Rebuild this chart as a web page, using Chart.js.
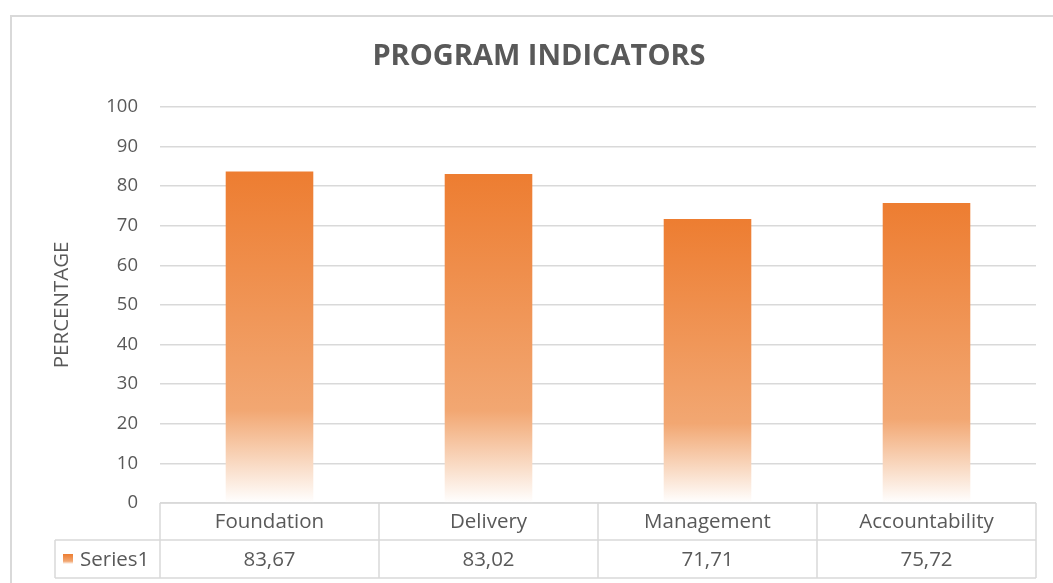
<!DOCTYPE html>
<html>
<head>
<meta charset="utf-8">
<script src="https://cdn.jsdelivr.net/npm/chart.js@4.4.1/dist/chart.umd.min.js"></script>
<style>
  html, body { margin: 0; padding: 0; background: #ffffff; }
  #wrap { width: 1053px; height: 583px; }
</style>
</head>
<body>
<div id="wrap"><canvas id="programChart" width="1053" height="583"></canvas></div>
<script>
// data
const categories = ['Foundation', 'Delivery', 'Management', 'Accountability'];
const series1 = [83.67, 83.02, 71.71, 75.72];
const seriesName = 'Series1';
const yTicks = [0, 10, 20, 30, 40, 50, 60, 70, 80, 90, 100];

const FONT = '"Open Sans", Lato, sans-serif';
const TEXT = '#595959';
const LINE = '#D9D9D9';

function barGradient(c, top, bottom) {
    const g = c.createLinearGradient(0, top, 0, bottom);
    g.addColorStop(0, '#ED7D31');
    g.addColorStop(0.72, '#F2A772');
    g.addColorStop(0.86, '#F8D3B8');
    g.addColorStop(1, '#FFFFFF');
    return g;
}

// outer frame of the chart
const framePlugin = {
    id: 'frame',
    beforeDraw(chart) {
        const c = chart.ctx;
        c.save();
        c.strokeStyle = LINE;
        c.lineWidth = 2;
        c.strokeRect(11, 16, 1200, 700);
        c.restore();
    }
};

// excel style data table under the plot
const tablePlugin = {
    id: 'dataTable',
    afterDraw(chart) {
        const c = chart.ctx;
        const x = chart.scales.x;
        const area = chart.chartArea;
        const top = area.bottom;
        const mid = top + 37;
        const bot = top + 75;
        const legendLeft = 55;
        const n = categories.length;
        const step = (area.right - area.left) / n;

        c.save();
        c.strokeStyle = LINE;
        c.lineWidth = 1.5;
        c.beginPath();
        c.moveTo(area.left, top); c.lineTo(area.right, top);
        c.moveTo(legendLeft, mid); c.lineTo(area.right, mid);
        c.moveTo(legendLeft, bot); c.lineTo(area.right, bot);
        c.moveTo(legendLeft, mid); c.lineTo(legendLeft, bot);
        for (let i = 0; i <= n; i++) {
            const px = area.left + i * step;
            c.moveTo(px, top); c.lineTo(px, bot);
        }
        c.stroke();

        c.fillStyle = TEXT;
        c.font = '20.5px ' + FONT;
        c.textAlign = 'center';
        c.textBaseline = 'middle';
        categories.forEach((name, i) => {
            const cx = x.getPixelForValue(i);
            c.fillText(name, cx, (top + mid) / 2 + 1);
            c.fillText(series1[i].toFixed(2).replace('.', ','), cx, (mid + bot) / 2 + 1);
        });

        // legend key
        const ky = (mid + bot) / 2 - 5;
        c.fillStyle = barGradient(c, ky, ky + 10);
        c.fillRect(63, ky, 10, 10);
        c.fillStyle = TEXT;
        c.textAlign = 'left';
        c.fillText(seriesName, 80, (mid + bot) / 2 + 1);
        c.restore();
    }
};

new Chart(document.getElementById('programChart').getContext('2d'), {
    type: 'bar',
    data: {
        labels: categories,
        datasets: [{
            label: seriesName,
            data: series1,
            backgroundColor: function(ctx) {
                const chart = ctx.chart;
                if (!chart.chartArea) return '#ED7D31';
                const y = chart.scales.y;
                const v = ctx.raw === undefined ? 0 : ctx.raw;
                return barGradient(chart.ctx, y.getPixelForValue(v), y.getPixelForValue(0));
            },
            borderWidth: 0,
            categoryPercentage: 1.0,
            barPercentage: 0.4
        }]
    },
    options: {
        responsive: false,
        animation: false,
        layout: { padding: { left: 42, right: 17, top: 0, bottom: 80 } },
        plugins: {
            legend: { display: false },
            tooltip: { enabled: false },
            title: {
                display: true,
                text: 'PROGRAM INDICATORS',
                color: TEXT,
                font: { family: FONT, size: 29, weight: 'bold' },
                padding: { top: 39, bottom: 33 }
            }
        },
        scales: {
            x: {
                display: false,
                grid: { display: false }
            },
            y: {
                min: 0,
                max: 100,
                afterBuildTicks(scale) {
                    scale.ticks = yTicks.map(v => ({ value: v }));
                },
                afterFit(scale) { scale.width = 118; },
                border: { display: false },
                grid: { color: LINE, lineWidth: 1.5, drawTicks: false },
                ticks: {
                    color: TEXT,
                    padding: 22,
                    font: { family: FONT, size: 18.5 }
                },
                title: {
                    display: true,
                    text: 'PERCENTAGE',
                    color: TEXT,
                    font: { family: FONT, size: 20.5, weight: 'normal' },
                    padding: { top: 8, bottom: 0 }
                }
            }
        }
    },
    plugins: [framePlugin, tablePlugin]
});
</script>
</body>
</html>
